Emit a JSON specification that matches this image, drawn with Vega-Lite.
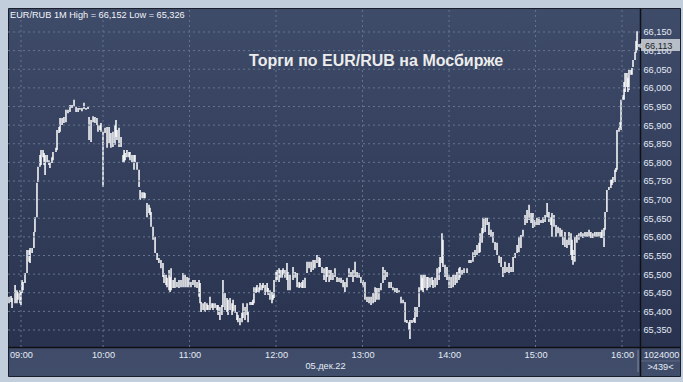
{
"$schema": "https://vega.github.io/schema/vega-lite/v6.json",
"width": 672, "height": 368,
"autosize": {"type": "none"},
"padding": {"left": 8, "top": 8, "right": 3, "bottom": 6},
"background": "#c3cedc",
"config": {
  "view": {"fill": {"gradient": "linear", "x1": 0, "y1": 0, "x2": 0, "y2": 1, "stops": [{"offset": 0, "color": "#3e4b69"}, {"offset": 0.92, "color": "#29334f"}, {"offset": 0.9215, "color": "#3f4b68"}, {"offset": 1, "color": "#414e6b"}]}, "stroke": "#1a1f2b", "strokeWidth": 1},
  "font": "Liberation Sans",
  "locale": {"number": {"decimal": ",", "thousands": " ", "grouping": [3], "currency": ["", ""]}},
  "axis": {"labelOverlap": false, "labelFlush": false, "labelBound": false, "labelSeparation": 0}
},
"datasets": {
"bars": [
{"m":-5.2,"l":65.422,"h":65.439},{"m":-3.8,"l":65.425,"h":65.441},{"m":-3.1,"l":65.409,"h":65.436},{"m":-1.0,"l":65.422,"h":65.471},{"m":0.3,"l":65.422,"h":65.457},{"m":1.0,"l":65.431,"h":65.452},{"m":2.4,"l":65.422,"h":65.457},{"m":3.1,"l":65.417,"h":65.452},{"m":3.8,"l":65.449,"h":65.484},{"m":4.5,"l":65.457,"h":65.479},{"m":5.9,"l":65.476,"h":65.503},{"m":7.3,"l":65.503,"h":65.565},{"m":8.7,"l":65.533,"h":65.565},{"m":9.4,"l":65.530,"h":65.570},{"m":10.8,"l":65.557,"h":65.570},{"m":12.1,"l":65.570,"h":65.613},{"m":12.8,"l":65.613,"h":65.653},{"m":14.2,"l":65.653,"h":65.745},{"m":14.9,"l":65.747,"h":65.788},{"m":16.3,"l":65.788,"h":65.820},{"m":17.0,"l":65.793,"h":65.833},{"m":18.4,"l":65.814,"h":65.833},{"m":19.1,"l":65.793,"h":65.825},{"m":19.8,"l":65.766,"h":65.820},{"m":21.2,"l":65.800,"h":65.820},{"m":22.5,"l":65.793,"h":65.806},{"m":23.2,"l":65.785,"h":65.800},{"m":24.6,"l":65.798,"h":65.814},{"m":25.3,"l":65.806,"h":65.828},{"m":27.4,"l":65.828,"h":65.839},{"m":28.1,"l":65.833,"h":65.887},{"m":29.5,"l":65.879,"h":65.895},{"m":30.2,"l":65.882,"h":65.919},{"m":31.6,"l":65.900,"h":65.919},{"m":32.9,"l":65.906,"h":65.922},{"m":34.3,"l":65.908,"h":65.941},{"m":35.7,"l":65.932,"h":65.941},{"m":37.1,"l":65.935,"h":65.954},{"m":38.5,"l":65.946,"h":65.954},{"m":39.9,"l":65.949,"h":65.968},{"m":41.3,"l":65.935,"h":65.949},{"m":42.7,"l":65.935,"h":65.946},{"m":44.0,"l":65.941,"h":65.946},{"m":45.4,"l":65.937,"h":65.946},{"m":46.8,"l":65.943,"h":65.960},{"m":48.2,"l":65.941,"h":65.946},{"m":49.6,"l":65.943,"h":65.949},{"m":50.3,"l":65.860,"h":65.922},{"m":51.7,"l":65.855,"h":65.914},{"m":53.1,"l":65.908,"h":65.924},{"m":54.4,"l":65.906,"h":65.922},{"m":55.8,"l":65.900,"h":65.919},{"m":56.5,"l":65.882,"h":65.900},{"m":57.9,"l":65.887,"h":65.900},{"m":58.6,"l":65.882,"h":65.906},{"m":60.0,"l":65.734,"h":65.882},{"m":61.4,"l":65.879,"h":65.893},{"m":62.8,"l":65.839,"h":65.895},{"m":64.2,"l":65.852,"h":65.895},{"m":65.5,"l":65.839,"h":65.879},{"m":66.9,"l":65.841,"h":65.882},{"m":68.3,"l":65.847,"h":65.900},{"m":69.0,"l":65.868,"h":65.914},{"m":69.7,"l":65.860,"h":65.887},{"m":71.1,"l":65.841,"h":65.893},{"m":72.5,"l":65.841,"h":65.868},{"m":73.9,"l":65.800,"h":65.820},{"m":74.6,"l":65.798,"h":65.833},{"m":75.3,"l":65.806,"h":65.825},{"m":76.6,"l":65.814,"h":65.833},{"m":78.0,"l":65.814,"h":65.828},{"m":78.7,"l":65.806,"h":65.828},{"m":80.1,"l":65.800,"h":65.820},{"m":81.5,"l":65.780,"h":65.820},{"m":82.2,"l":65.800,"h":65.820},{"m":83.6,"l":65.780,"h":65.800},{"m":85.0,"l":65.734,"h":65.780},{"m":85.7,"l":65.699,"h":65.726},{"m":87.1,"l":65.704,"h":65.720},{"m":88.4,"l":65.704,"h":65.720},{"m":89.1,"l":65.704,"h":65.718},{"m":90.5,"l":65.653,"h":65.691},{"m":91.9,"l":65.664,"h":65.686},{"m":92.6,"l":65.659,"h":65.678},{"m":93.3,"l":65.627,"h":65.667},{"m":94.7,"l":65.592,"h":65.627},{"m":96.1,"l":65.557,"h":65.600},{"m":97.5,"l":65.538,"h":65.557},{"m":98.8,"l":65.530,"h":65.543},{"m":100.2,"l":65.516,"h":65.538},{"m":101.6,"l":65.492,"h":65.530},{"m":102.3,"l":65.476,"h":65.503},{"m":103.7,"l":65.471,"h":65.498},{"m":104.4,"l":65.465,"h":65.490},{"m":105.8,"l":65.457,"h":65.511},{"m":106.5,"l":65.452,"h":65.492},{"m":107.2,"l":65.457,"h":65.516},{"m":108.6,"l":65.463,"h":65.484},{"m":109.9,"l":65.463,"h":65.490},{"m":111.3,"l":65.465,"h":65.479},{"m":112.7,"l":65.463,"h":65.484},{"m":114.1,"l":65.465,"h":65.484},{"m":115.5,"l":65.465,"h":65.503},{"m":116.9,"l":65.465,"h":65.498},{"m":118.3,"l":65.465,"h":65.492},{"m":119.6,"l":65.465,"h":65.490},{"m":121.0,"l":65.465,"h":65.479},{"m":122.4,"l":65.471,"h":65.484},{"m":123.8,"l":65.465,"h":65.484},{"m":125.2,"l":65.463,"h":65.479},{"m":126.6,"l":65.439,"h":65.484},{"m":127.3,"l":65.422,"h":65.476},{"m":128.0,"l":65.398,"h":65.425},{"m":129.4,"l":65.404,"h":65.422},{"m":130.7,"l":65.398,"h":65.425},{"m":132.1,"l":65.404,"h":65.422},{"m":132.8,"l":65.404,"h":65.417},{"m":134.2,"l":65.404,"h":65.439},{"m":135.6,"l":65.409,"h":65.422},{"m":136.3,"l":65.404,"h":65.422},{"m":137.7,"l":65.409,"h":65.422},{"m":139.1,"l":65.404,"h":65.417},{"m":139.8,"l":65.390,"h":65.417},{"m":141.1,"l":65.377,"h":65.412},{"m":142.5,"l":65.390,"h":65.417},{"m":143.2,"l":65.412,"h":65.484},{"m":144.6,"l":65.404,"h":65.449},{"m":146.0,"l":65.398,"h":65.436},{"m":146.7,"l":65.390,"h":65.431},{"m":148.1,"l":65.404,"h":65.436},{"m":149.5,"l":65.390,"h":65.422},{"m":150.2,"l":65.398,"h":65.431},{"m":151.6,"l":65.396,"h":65.417},{"m":152.9,"l":65.377,"h":65.398},{"m":153.6,"l":65.371,"h":65.390},{"m":155.0,"l":65.363,"h":65.382},{"m":156.4,"l":65.371,"h":65.396},{"m":157.1,"l":65.382,"h":65.422},{"m":158.5,"l":65.377,"h":65.412},{"m":159.9,"l":65.390,"h":65.422},{"m":160.6,"l":65.371,"h":65.398},{"m":162.0,"l":65.417,"h":65.425},{"m":163.3,"l":65.417,"h":65.425},{"m":164.0,"l":65.417,"h":65.431},{"m":164.7,"l":65.422,"h":65.465},{"m":166.1,"l":65.449,"h":65.465},{"m":166.8,"l":65.452,"h":65.471},{"m":168.2,"l":65.449,"h":65.465},{"m":168.9,"l":65.457,"h":65.476},{"m":170.3,"l":65.457,"h":65.471},{"m":171.0,"l":65.463,"h":65.476},{"m":172.4,"l":65.444,"h":65.471},{"m":173.8,"l":65.452,"h":65.476},{"m":174.5,"l":65.444,"h":65.463},{"m":175.8,"l":65.431,"h":65.457},{"m":177.2,"l":65.422,"h":65.452},{"m":177.9,"l":65.431,"h":65.444},{"m":178.6,"l":65.436,"h":65.484},{"m":180.0,"l":65.479,"h":65.506},{"m":180.7,"l":65.484,"h":65.511},{"m":182.1,"l":65.479,"h":65.516},{"m":182.8,"l":65.490,"h":65.511},{"m":184.2,"l":65.490,"h":65.511},{"m":184.9,"l":65.498,"h":65.516},{"m":186.2,"l":65.490,"h":65.511},{"m":187.6,"l":65.484,"h":65.530},{"m":188.3,"l":65.457,"h":65.506},{"m":189.7,"l":65.457,"h":65.498},{"m":191.8,"l":65.484,"h":65.519},{"m":193.2,"l":65.490,"h":65.506},{"m":194.6,"l":65.465,"h":65.503},{"m":196.0,"l":65.463,"h":65.479},{"m":196.6,"l":65.465,"h":65.476},{"m":198.0,"l":65.463,"h":65.479},{"m":198.7,"l":65.463,"h":65.484},{"m":200.1,"l":65.463,"h":65.490},{"m":201.5,"l":65.503,"h":65.533},{"m":202.9,"l":65.516,"h":65.533},{"m":204.3,"l":65.506,"h":65.533},{"m":205.7,"l":65.511,"h":65.538},{"m":207.0,"l":65.516,"h":65.538},{"m":208.4,"l":65.530,"h":65.551},{"m":209.8,"l":65.519,"h":65.546},{"m":210.5,"l":65.519,"h":65.543},{"m":211.9,"l":65.503,"h":65.519},{"m":213.3,"l":65.484,"h":65.516},{"m":214.7,"l":65.479,"h":65.519},{"m":215.4,"l":65.492,"h":65.519},{"m":216.8,"l":65.479,"h":65.511},{"m":218.1,"l":65.484,"h":65.511},{"m":219.5,"l":65.484,"h":65.503},{"m":220.9,"l":65.492,"h":65.516},{"m":222.3,"l":65.479,"h":65.492},{"m":223.7,"l":65.479,"h":65.490},{"m":225.1,"l":65.476,"h":65.490},{"m":226.5,"l":65.465,"h":65.484},{"m":227.8,"l":65.452,"h":65.479},{"m":229.2,"l":65.465,"h":65.490},{"m":230.6,"l":65.492,"h":65.516},{"m":232.0,"l":65.492,"h":65.506},{"m":233.4,"l":65.479,"h":65.511},{"m":234.8,"l":65.492,"h":65.533},{"m":236.2,"l":65.490,"h":65.506},{"m":237.6,"l":65.490,"h":65.503},{"m":238.9,"l":65.476,"h":65.492},{"m":240.3,"l":65.465,"h":65.484},{"m":241.7,"l":65.431,"h":65.479},{"m":243.1,"l":65.425,"h":65.439},{"m":244.5,"l":65.422,"h":65.439},{"m":245.9,"l":65.417,"h":65.439},{"m":247.3,"l":65.422,"h":65.449},{"m":248.7,"l":65.425,"h":65.465},{"m":250.0,"l":65.431,"h":65.463},{"m":251.4,"l":65.431,"h":65.463},{"m":252.8,"l":65.457,"h":65.476},{"m":254.2,"l":65.476,"h":65.519},{"m":255.6,"l":65.484,"h":65.511},{"m":257.0,"l":65.492,"h":65.506},{"m":258.4,"l":65.463,"h":65.479},{"m":259.8,"l":65.463,"h":65.479},{"m":261.1,"l":65.457,"h":65.465},{"m":262.5,"l":65.452,"h":65.463},{"m":263.9,"l":65.449,"h":65.463},{"m":265.3,"l":65.452,"h":65.457},{"m":266.7,"l":65.422,"h":65.439},{"m":268.1,"l":65.422,"h":65.431},{"m":269.5,"l":65.371,"h":65.425},{"m":270.8,"l":65.369,"h":65.377},{"m":272.2,"l":65.350,"h":65.371},{"m":272.9,"l":65.326,"h":65.377},{"m":274.3,"l":65.369,"h":65.377},{"m":275.7,"l":65.371,"h":65.382},{"m":276.4,"l":65.369,"h":65.412},{"m":277.8,"l":65.385,"h":65.412},{"m":279.2,"l":65.412,"h":65.465},{"m":280.6,"l":65.457,"h":65.498},{"m":281.3,"l":65.457,"h":65.490},{"m":282.0,"l":65.452,"h":65.498},{"m":283.3,"l":65.463,"h":65.498},{"m":284.7,"l":65.457,"h":65.492},{"m":285.4,"l":65.463,"h":65.492},{"m":286.8,"l":65.465,"h":65.490},{"m":288.2,"l":65.471,"h":65.492},{"m":288.9,"l":65.463,"h":65.484},{"m":290.3,"l":65.465,"h":65.490},{"m":291.7,"l":65.471,"h":65.516},{"m":293.1,"l":65.484,"h":65.519},{"m":293.8,"l":65.506,"h":65.546},{"m":295.1,"l":65.530,"h":65.610},{"m":295.8,"l":65.519,"h":65.592},{"m":297.2,"l":65.492,"h":65.525},{"m":298.6,"l":65.484,"h":65.519},{"m":300.0,"l":65.463,"h":65.498},{"m":301.4,"l":65.463,"h":65.492},{"m":302.8,"l":65.465,"h":65.498},{"m":304.2,"l":65.471,"h":65.498},{"m":305.5,"l":65.476,"h":65.506},{"m":306.9,"l":65.484,"h":65.516},{"m":307.6,"l":65.490,"h":65.519},{"m":309.0,"l":65.498,"h":65.511},{"m":310.4,"l":65.503,"h":65.516},{"m":312.5,"l":65.503,"h":65.516},{"m":313.9,"l":65.530,"h":65.538},{"m":315.2,"l":65.530,"h":65.538},{"m":316.6,"l":65.533,"h":65.559},{"m":318.0,"l":65.546,"h":65.565},{"m":319.4,"l":65.551,"h":65.578},{"m":320.8,"l":65.557,"h":65.584},{"m":321.5,"l":65.559,"h":65.610},{"m":322.9,"l":65.584,"h":65.624},{"m":323.6,"l":65.610,"h":65.651},{"m":325.0,"l":65.613,"h":65.651},{"m":326.4,"l":65.632,"h":65.651},{"m":327.7,"l":65.605,"h":65.640},{"m":329.1,"l":65.600,"h":65.619},{"m":330.5,"l":65.584,"h":65.613},{"m":331.9,"l":65.565,"h":65.586},{"m":333.3,"l":65.551,"h":65.584},{"m":334.7,"l":65.530,"h":65.551},{"m":336.1,"l":65.519,"h":65.546},{"m":337.4,"l":65.492,"h":65.519},{"m":338.8,"l":65.503,"h":65.533},{"m":340.2,"l":65.506,"h":65.519},{"m":341.6,"l":65.503,"h":65.530},{"m":343.0,"l":65.506,"h":65.519},{"m":344.4,"l":65.506,"h":65.546},{"m":345.8,"l":65.543,"h":65.557},{"m":347.2,"l":65.557,"h":65.578},{"m":348.5,"l":65.559,"h":65.600},{"m":349.9,"l":65.570,"h":65.605},{"m":351.3,"l":65.600,"h":65.619},{"m":352.7,"l":65.632,"h":65.659},{"m":354.1,"l":65.637,"h":65.672},{"m":355.5,"l":65.645,"h":65.686},{"m":356.9,"l":65.637,"h":65.664},{"m":358.2,"l":65.624,"h":65.664},{"m":359.6,"l":65.627,"h":65.645},{"m":361.0,"l":65.632,"h":65.651},{"m":362.4,"l":65.632,"h":65.653},{"m":363.8,"l":65.637,"h":65.645},{"m":365.2,"l":65.637,"h":65.653},{"m":366.6,"l":65.640,"h":65.659},{"m":368.0,"l":65.653,"h":65.691},{"m":369.3,"l":65.640,"h":65.667},{"m":370.7,"l":65.632,"h":65.653},{"m":371.4,"l":65.600,"h":65.664},{"m":372.8,"l":65.627,"h":65.659},{"m":374.2,"l":65.600,"h":65.632},{"m":375.6,"l":65.610,"h":65.627},{"m":377.0,"l":65.600,"h":65.624},{"m":378.3,"l":65.600,"h":65.619},{"m":379.0,"l":65.578,"h":65.600},{"m":380.4,"l":65.573,"h":65.613},{"m":381.8,"l":65.570,"h":65.592},{"m":383.2,"l":65.578,"h":65.613},{"m":384.6,"l":65.551,"h":65.610},{"m":385.3,"l":65.538,"h":65.592},{"m":386.0,"l":65.525,"h":65.565},{"m":387.3,"l":65.533,"h":65.600},{"m":388.7,"l":65.584,"h":65.605},{"m":390.1,"l":65.592,"h":65.610},{"m":391.5,"l":65.600,"h":65.613},{"m":392.9,"l":65.597,"h":65.610},{"m":394.3,"l":65.600,"h":65.613},{"m":395.7,"l":65.600,"h":65.613},{"m":397.1,"l":65.600,"h":65.619},{"m":398.4,"l":65.597,"h":65.613},{"m":399.8,"l":65.597,"h":65.610},{"m":401.2,"l":65.600,"h":65.613},{"m":402.6,"l":65.600,"h":65.613},{"m":404.0,"l":65.600,"h":65.613},{"m":405.4,"l":65.597,"h":65.613},{"m":406.1,"l":65.597,"h":65.619},{"m":407.5,"l":65.573,"h":65.624},{"m":408.2,"l":65.619,"h":65.667},{"m":409.5,"l":65.667,"h":65.726},{"m":410.9,"l":65.726,"h":65.734},{"m":412.3,"l":65.731,"h":65.753},{"m":413.0,"l":65.739,"h":65.753},{"m":413.7,"l":65.745,"h":65.761},{"m":415.1,"l":65.747,"h":65.780},{"m":415.8,"l":65.774,"h":65.785},{"m":416.5,"l":65.780,"h":65.887},{"m":417.9,"l":65.882,"h":65.893},{"m":418.6,"l":65.893,"h":65.908},{"m":419.3,"l":65.887,"h":65.968},{"m":420.7,"l":65.968,"h":65.981},{"m":421.4,"l":65.968,"h":66.016},{"m":422.1,"l":65.989,"h":66.040},{"m":423.4,"l":66.002,"h":66.040},{"m":424.1,"l":65.989,"h":66.027},{"m":424.8,"l":65.994,"h":66.048},{"m":426.2,"l":66.035,"h":66.048},{"m":426.9,"l":66.035,"h":66.053},{"m":427.6,"l":66.056,"h":66.075},{"m":429.0,"l":66.075,"h":66.096},{"m":429.7,"l":66.094,"h":66.126},{"m":430.4,"l":66.101,"h":66.152},{"m":431.8,"l":66.110,"h":66.118}
]
},
"layer": [
  {
    "data": {"name": "bars"},
    "mark": {"type": "rule", "color": "#ffffff", "strokeWidth": 1.5},
    "encoding": {
      "x": {"field": "m", "type": "quantitative",
        "scale": {"domain": [-5.9, 460.2], "nice": false, "zero": false},
        "axis": {"orient": "bottom", "offset": -29, "values": [3.1,60,120,180,240,300,360,420],
          "labelExpr": "['09:00','10:00','11:00','12:00','13:00','14:00','15:00','16:00'][round(datum.value/60)]",
          "title": null, "ticks": false, "grid": false, "domainColor": "#0e1014", "domainWidth": 1.5,
          "labelOverlap": false, "labelFlush": false,
          "labelColor": "#e3ebf6", "labelFontSize": 9.2, "labelFont": "Liberation Sans", "labelPadding": 3}},
      "y": {"field": "l", "type": "quantitative",
        "scale": {"domain": [65.2265, 66.2144], "nice": false, "zero": false},
        "axis": {"orient": "right", "offset": -40, "values": [65.35,65.40,65.45,65.50,65.55,65.60,65.65,65.70,65.75,65.80,65.85,65.90,65.95,66.00,66.05,66.10,66.15],
          "format": ",.3f", "tickCount": 20,
          "title": null, "ticks": false, "grid": false, "domainColor": "#0e1014", "domainWidth": 1.5,
          "labelOverlap": false, "labelFlush": false, "labelBound": false, "labelSeparation": 0,
          "labelColor": "#e3ebf6", "labelFontSize": 9.2, "labelFont": "Liberation Sans", "labelPadding": 3,
          "labelAlign": "left", "labelBaseline": "middle"}},
      "y2": {"field": "h"}
    }
  },
  {
    "data": {"values": [{"p":65.35},{"p":65.40},{"p":65.45},{"p":65.50},{"p":65.55},{"p":65.60},{"p":65.65},{"p":65.70},{"p":65.75},{"p":65.80},{"p":65.85},{"p":65.90},{"p":65.95},{"p":66.00},{"p":66.05},{"p":66.10},{"p":66.15}]},
    "mark": {"type": "rule", "color": "#66758f", "strokeDash": [2, 3], "strokeWidth": 1},
    "encoding": {
      "y": {"field": "p", "type": "quantitative"},
      "x": {"datum": -5.9, "type": "quantitative"},
      "x2": {"datum": 432.5}
    }
  },
  {
    "data": {"values": [{"g":3.1},{"g":60},{"g":120},{"g":180},{"g":240},{"g":300},{"g":360},{"g":420}]},
    "mark": {"type": "rule", "color": "#66758f", "strokeDash": [2, 3], "strokeWidth": 1},
    "encoding": {
      "x": {"field": "g", "type": "quantitative"},
      "y": {"datum": 65.3044, "type": "quantitative"},
      "y2": {"datum": 66.2144}
    }
  },
  {
    "data": {"values": [{"v": 66.113}]},
    "mark": {"type": "rect", "color": "#c8ced6", "opacity": 0.88},
    "encoding": {
      "x": {"datum": 433.2, "type": "quantitative"},
      "x2": {"datum": 460.2},
      "y": {"datum": 66.099, "type": "quantitative"},
      "y2": {"datum": 66.131}
    }
  },
  {
    "data": {"values": [{"v": 66.113}]},
    "mark": {"type": "point", "shape": "triangle-left", "filled": true, "color": "#c8ced6", "size": 36, "opacity": 0.88},
    "encoding": {
      "x": {"datum": 431.9, "type": "quantitative"},
      "y": {"field": "v", "type": "quantitative"}
    }
  },
  {
    "data": {"values": [{"t": "66,113", "v": 66.113}]},
    "mark": {"type": "text", "align": "left", "baseline": "middle", "font": "Liberation Sans", "fontSize": 9.2, "color": "#1c1f27"},
    "encoding": {
      "x": {"datum": 435.9, "type": "quantitative"},
      "y": {"field": "v", "type": "quantitative"},
      "text": {"field": "t"}
    }
  },
  {
    "data": {"values": [{"t": "EUR/RUB 1M High = 66,152 Low = 65,326"}]},
    "mark": {"type": "text", "align": "left", "baseline": "middle", "font": "Liberation Sans", "fontSize": 9.2, "color": "#f2f4f8"},
    "encoding": {
      "x": {"datum": -4.5, "type": "quantitative"},
      "y": {"datum": 66.1956, "type": "quantitative"},
      "text": {"field": "t"}
    }
  },
  {
    "data": {"values": [{"t": "Торги по EUR/RUB на Мосбирже"}]},
    "mark": {"type": "text", "align": "center", "baseline": "alphabetic", "font": "Liberation Sans", "fontSize": 16, "fontWeight": "bold", "color": "#ececec"},
    "encoding": {
      "x": {"datum": 249.4, "type": "quantitative"},
      "y": {"datum": 66.0587, "type": "quantitative"},
      "text": {"field": "t"}
    }
  },
  {
    "data": {"values": [{"t": "05.дек.22"}]},
    "mark": {"type": "text", "align": "center", "baseline": "middle", "font": "Liberation Sans", "fontSize": 9.2, "color": "#e3ebf6"},
    "encoding": {
      "x": {"datum": 214.3, "type": "quantitative"},
      "y": {"datum": 65.2534, "type": "quantitative"},
      "text": {"field": "t"}
    }
  },
  {
    "data": {"values": [{"t": "1024000"}]},
    "mark": {"type": "text", "align": "center", "baseline": "middle", "font": "Liberation Sans", "fontSize": 9.2, "color": "#e3ebf6"},
    "encoding": {
      "x": {"datum": 447.4, "type": "quantitative"},
      "y": {"datum": 65.2829, "type": "quantitative"},
      "text": {"field": "t"}
    }
  },
  {
    "data": {"values": [{"t": ">439<"}]},
    "mark": {"type": "text", "align": "center", "baseline": "middle", "font": "Liberation Sans", "fontSize": 9.2, "color": "#e3ebf6"},
    "encoding": {
      "x": {"datum": 446.7, "type": "quantitative"},
      "y": {"datum": 65.2507, "type": "quantitative"},
      "text": {"field": "t"}
    }
  },
  {
    "data": {"values": [{"s": 1}]},
    "mark": {"type": "rule", "color": "#5e6a82", "strokeWidth": 1},
    "encoding": {
      "x": {"datum": 433.2, "type": "quantitative"},
      "x2": {"datum": 460.2},
      "y": {"datum": 65.2668, "type": "quantitative"}
    }
  },
  {
    "data": {"values": [{"s": 1}]},
    "mark": {"type": "rule", "color": "#7f8aa0", "strokeWidth": 1},
    "encoding": {
      "x": {"datum": 431.1, "type": "quantitative"},
      "y": {"datum": 65.2372, "type": "quantitative"},
      "y2": {"datum": 65.2963}
    }
  }
]
}
